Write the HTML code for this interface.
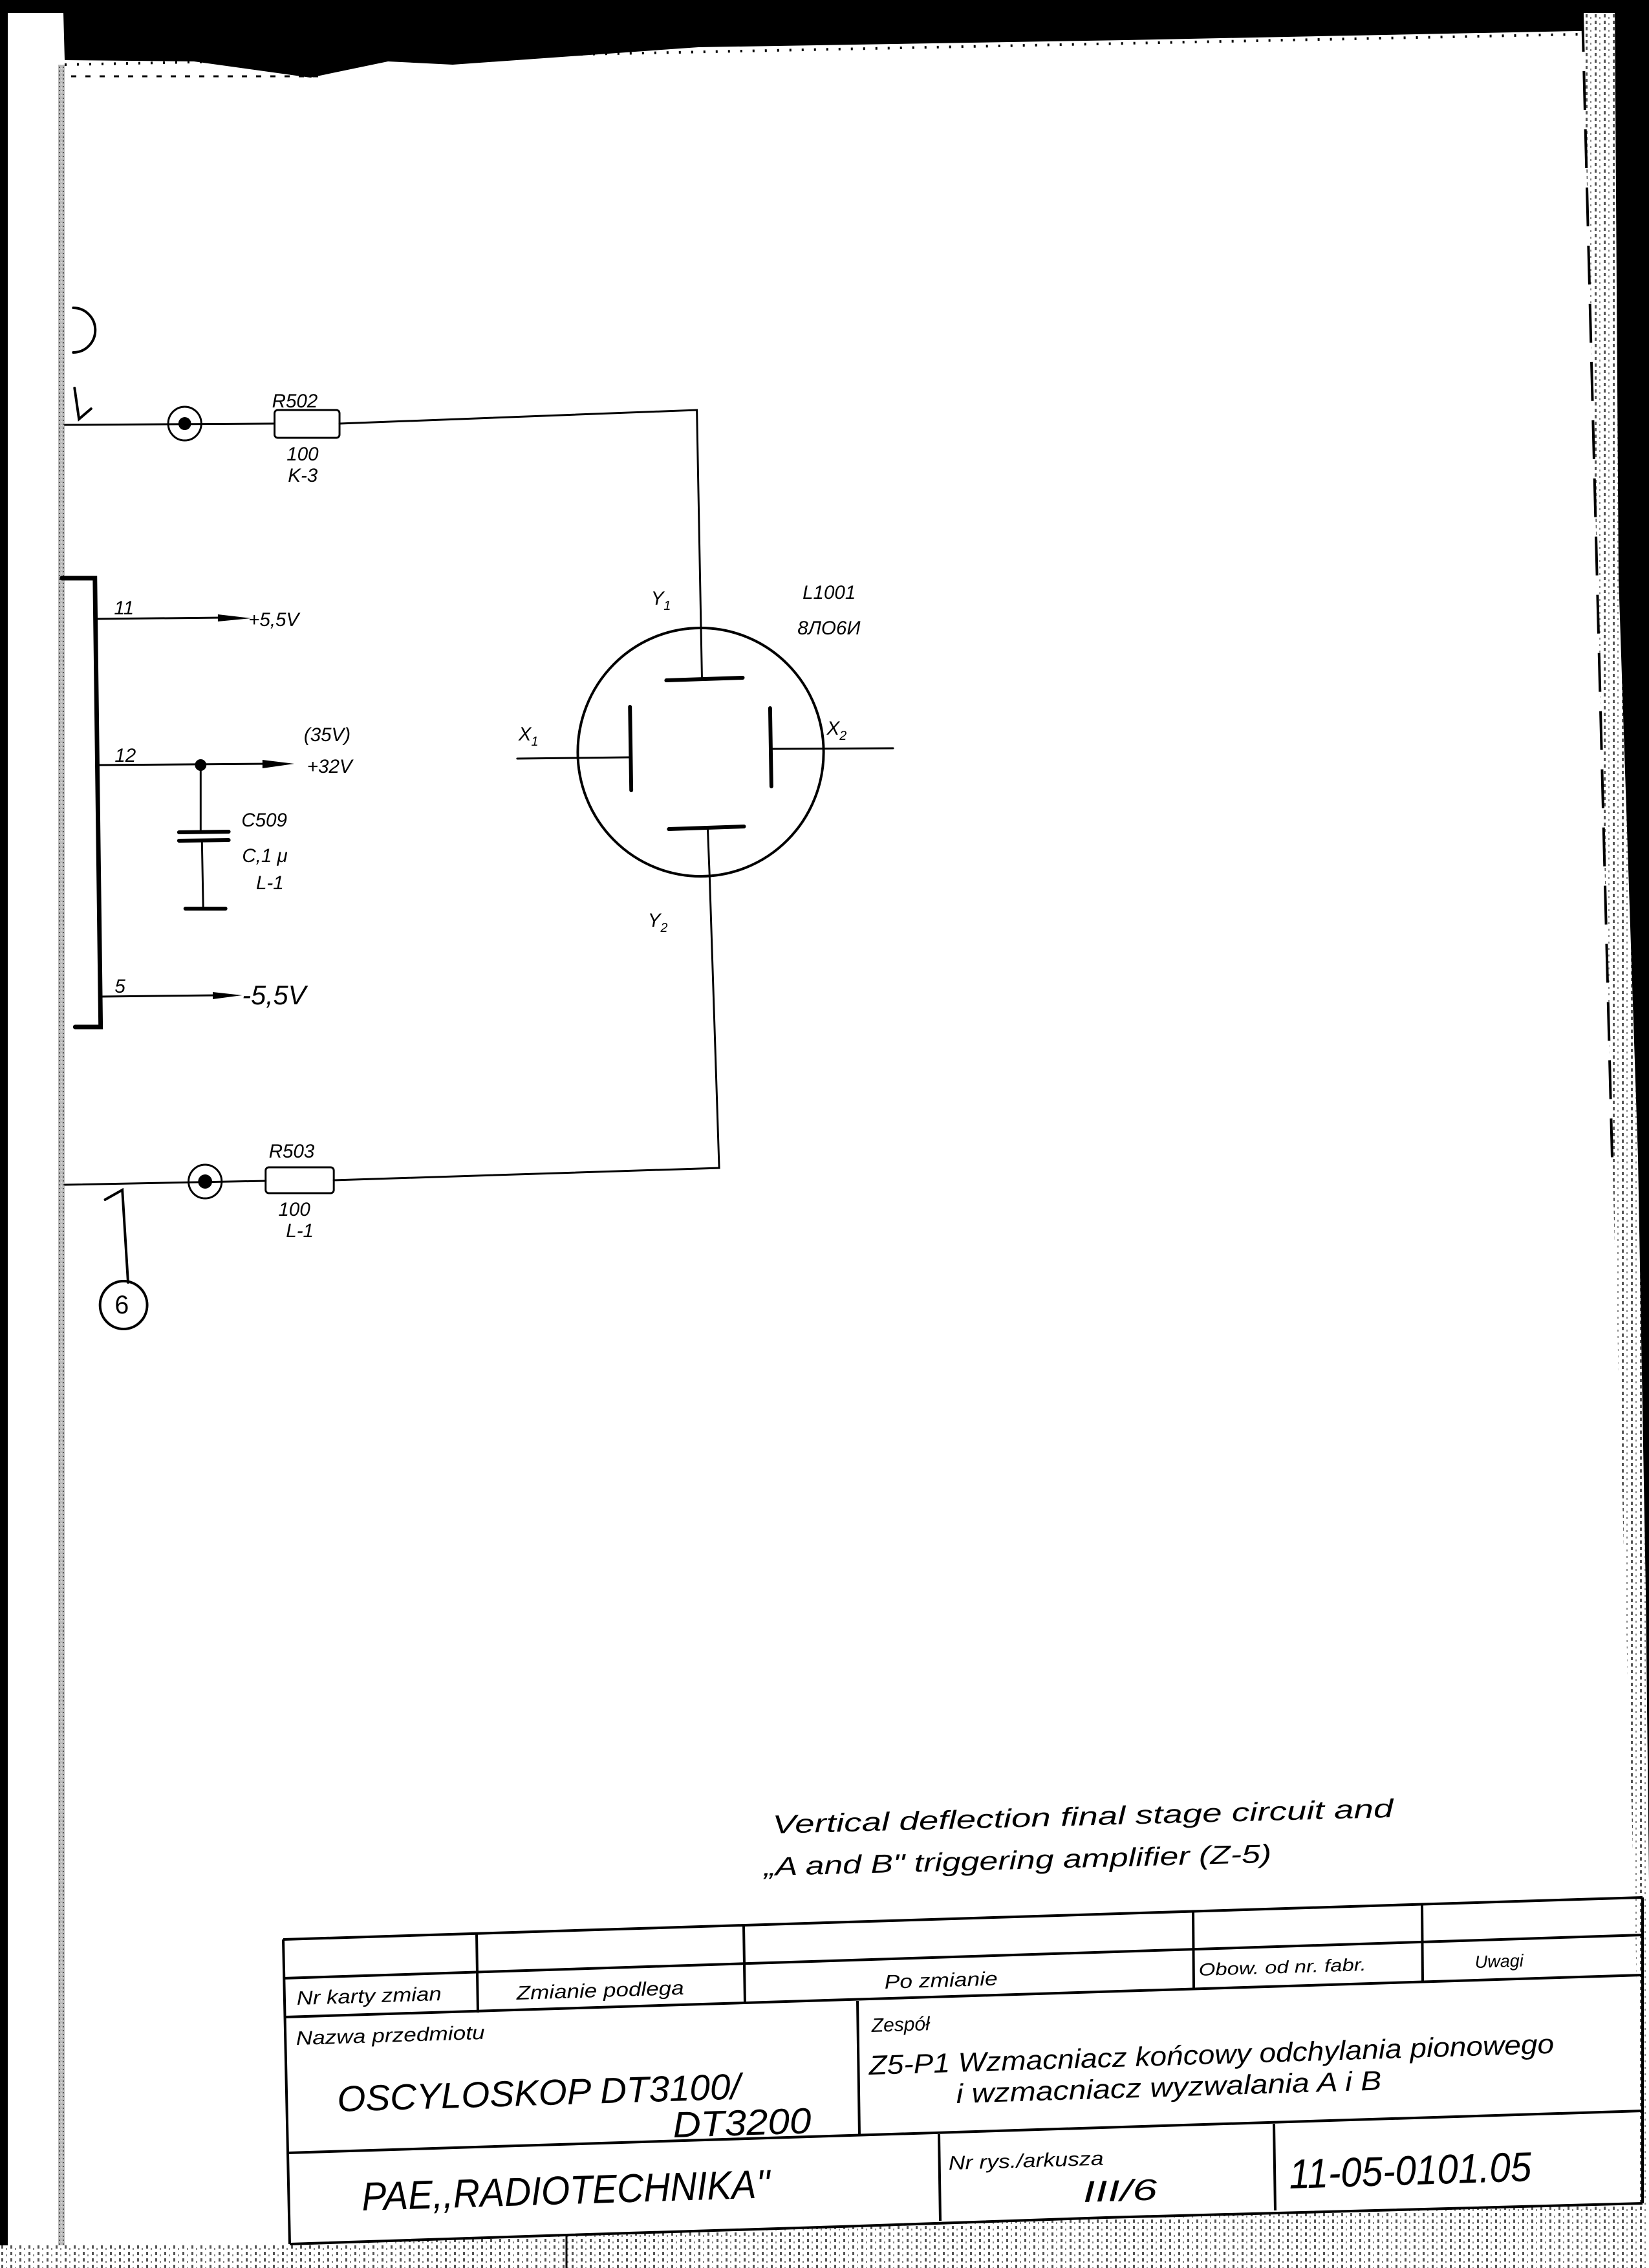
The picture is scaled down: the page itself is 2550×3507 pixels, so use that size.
<!DOCTYPE html>
<html><head><meta charset="utf-8"><style>
html,body{margin:0;padding:0;background:#fff}
svg{display:block}
text{font-family:"Liberation Sans",sans-serif;font-style:italic;fill:#000}
</style></head><body>
<svg width="2550" height="3507" viewBox="0 0 2550 3507" xmlns="http://www.w3.org/2000/svg">
<defs>
<pattern id="dots" width="14" height="10" patternUnits="userSpaceOnUse">
<rect width="14" height="10" fill="#fff"/><rect x="2" y="2" width="3" height="5" fill="#555"/><rect x="9" y="6" width="2" height="3" fill="#888"/>
</pattern>
<pattern id="grain" width="6" height="6" patternUnits="userSpaceOnUse">
<rect width="6" height="6" fill="#bbb"/><rect x="1" y="1" width="2" height="2" fill="#555"/><rect x="4" y="3" width="1" height="2" fill="#fff"/>
</pattern>
</defs>
<rect width="2550" height="3507" fill="#fff"/>
<!-- left edge -->
<rect x="0" y="0" width="12" height="3507" fill="#000"/>
<rect x="90" y="100" width="10" height="3380" fill="url(#grain)"/>
<!-- top band -->
<polygon points="0,0 2550,0 2550,20 2497,20 2490,47 1740,62 1080,73 700,100 600,95 480,120 300,95 100,93 98,20 0,20" fill="#000"/>
<line x1="100" y1="100" x2="2490" y2="52" stroke="#000" stroke-width="4" stroke-dasharray="3 16"/>
<line x1="110" y1="118" x2="500" y2="118" stroke="#000" stroke-width="3" stroke-dasharray="8 14"/>
<!-- right edge -->
<polygon points="2447,20 2497,20 2503,895 2533,1790 2545,2460 2550,2908 2550,3507 2533,3507 2533,3130 2493,1790" fill="url(#dots)"/>
<polygon points="2497,0 2550,0 2550,2908 2545,2460 2533,1790 2503,895" fill="#000"/>
<line x1="2447" y1="20" x2="2493" y2="1790" stroke="#000" stroke-width="4" stroke-dasharray="60 30"/>
<!-- bottom -->
<polygon points="0,3472 448,3472 876,3456 1300,3443 1710,3429 2540,3407 2550,3407 2550,3507 0,3507" fill="url(#dots)"/>
<line x1="876" y1="3456" x2="876" y2="3507" stroke="#000" stroke-width="3"/>

<g transform="matrix(0.985 0 0 1 2 0)">
<g stroke="#000" fill="none" stroke-linecap="round">
<path d="M113,476 A34,34 0 0 1 113,545" stroke-width="4"/>
<polyline points="115,600 122,648 141,632" stroke-width="4"/>
<line x1="100" y1="657" x2="429" y2="655" stroke-width="3"/>
<circle cx="288" cy="655" r="26" stroke-width="3"/>
<rect x="429" y="634" width="102" height="43" rx="5" stroke-width="3"/>
<polyline points="531,655 1092,634 1100,1050" stroke-width="3"/>
<polyline points="95,894 147,894 156,1588 116,1588" stroke-width="7"/>
<line x1="151" y1="957" x2="350" y2="955" stroke-width="3"/>
<line x1="154" y1="1183" x2="420" y2="1181" stroke-width="3"/>
<line x1="158" y1="1541" x2="340" y2="1539" stroke-width="3"/>
<line x1="313" y1="1183" x2="313" y2="1287" stroke-width="3"/>
<line x1="279" y1="1287" x2="357" y2="1286" stroke-width="6"/>
<line x1="279" y1="1300" x2="357" y2="1299" stroke-width="6"/>
<line x1="315" y1="1300" x2="317" y2="1405" stroke-width="3"/>
<line x1="289" y1="1405" x2="352" y2="1405" stroke-width="6"/>
<ellipse cx="1098" cy="1163" rx="193" ry="192" stroke-width="4"/>
<line x1="1044" y1="1052" x2="1164" y2="1048" stroke-width="6"/>
<line x1="1048" y1="1282" x2="1166" y2="1278" stroke-width="6"/>
<line x1="987" y1="1093" x2="989" y2="1222" stroke-width="6"/>
<line x1="1207" y1="1095" x2="1209" y2="1216" stroke-width="6"/>
<line x1="810" y1="1173" x2="987" y2="1171" stroke-width="3"/>
<line x1="1209" y1="1158" x2="1400" y2="1157" stroke-width="3"/>
<polyline points="1109,1280 1112,1355 1127,1806 522,1825" stroke-width="3"/>
<rect x="415" y="1805" width="107" height="40" rx="5" stroke-width="3"/>
<line x1="100" y1="1832" x2="415" y2="1826" stroke-width="3"/>
<circle cx="320" cy="1827" r="26" stroke-width="3"/>
<polyline points="163,1855 190,1840 199,1983" stroke-width="4"/>
<circle cx="192" cy="2018" r="37" stroke-width="4"/>
</g>
<g fill="#000">
<circle cx="288" cy="655" r="10"/>
<circle cx="320" cy="1827" r="11"/>
<circle cx="313" cy="1183" r="9"/>
<polygon points="340,950 392,956 340,961"/>
<polygon points="410,1175 460,1181 410,1188"/>
<polygon points="332,1534 378,1539 332,1545"/>
</g>
<g font-size="30">
<text x="425" y="630">R502</text>
<text x="448" y="712">100</text>
<text x="450" y="745">K-3</text>
<text x="177" y="950">11</text>
<text x="388" y="968">+5,5V</text>
<text x="178" y="1178">12</text>
<text x="475" y="1146">(35V)</text>
<text x="480" y="1195">+32V</text>
<text x="377" y="1278">C509</text>
<text x="378" y="1333">C,1 μ</text>
<text x="400" y="1375">L-1</text>
<text x="178" y="1535">5</text>
<text x="378" y="1553" font-size="42">-5,5V</text>
<text x="1258" y="926">L1001</text>
<text x="1250" y="981">8ЛО6И</text>
<text x="1020" y="935">Y<tspan font-size="20" dy="8">1</tspan></text>
<text x="1015" y="1433">Y<tspan font-size="20" dy="8">2</tspan></text>
<text x="812" y="1145">X<tspan font-size="20" dy="8">1</tspan></text>
<text x="1296" y="1136">X<tspan font-size="20" dy="8">2</tspan></text>
<text x="420" y="1790">R503</text>
<text x="435" y="1880">100</text>
<text x="447" y="1913">L-1</text>
<text x="178" y="2031" font-size="40" style="font-style:normal">6</text>
</g>
</g>
<g transform="rotate(-1.5 1195 2835)" font-size="40">
<text x="1195" y="2835" textLength="960" lengthAdjust="spacingAndGlyphs">Vertical  deflection  final  stage  circuit  and</text>
<text x="1180" y="2900" textLength="785" lengthAdjust="spacingAndGlyphs">„A and B" triggering amplifier (Z-5)</text>
</g>
<g stroke="#000" fill="none" stroke-width="4">
<line x1="438" y1="2999" x2="2540" y2="2934"/>
<line x1="438" y1="3059" x2="2540" y2="2992"/>
<line x1="440" y1="3119" x2="2540" y2="3054"/>
<line x1="445" y1="3329" x2="2540" y2="3264"/>
<polyline points="448,3470 876,3456 1300,3443 1710,3429 2540,3407"/>
<line x1="438" y1="2999" x2="448" y2="3470"/>
<line x1="737" y1="2990" x2="739" y2="3112"/>
<line x1="1150" y1="2978" x2="1152" y2="3099"/>
<line x1="1845" y1="2956" x2="1846" y2="3075"/>
<line x1="2199" y1="2945" x2="2200" y2="3066"/>
<line x1="1326" y1="3094" x2="1329" y2="3303"/>
<line x1="1452" y1="3300" x2="1454" y2="3434"/>
<line x1="1970" y1="3284" x2="1972" y2="3418"/>
<line x1="2540" y1="2934" x2="2540" y2="3407"/>
</g>
<g font-size="30">
<text x="459" y="3100" transform="rotate(-1.8 459 3100)" textLength="224" lengthAdjust="spacingAndGlyphs">Nr karty zmian</text>
<text x="799" y="3092" transform="rotate(-1.8 799 3092)" textLength="259" lengthAdjust="spacingAndGlyphs">Zmianie podlega</text>
<text x="1368" y="3075" transform="rotate(-1.8 1368 3075)" textLength="175" lengthAdjust="spacingAndGlyphs">Po zmianie</text>
<text x="1854" y="3055" transform="rotate(-1.8 1854 3055)" font-size="27" textLength="259" lengthAdjust="spacingAndGlyphs">Obow. od nr. fabr.</text>
<text x="2281" y="3043" transform="rotate(-1.8 2281 3043)" font-size="27">Uwagi</text>
<text x="458" y="3162" transform="rotate(-1.8 458 3162)" textLength="292" lengthAdjust="spacingAndGlyphs">Nazwa przedmiotu</text>
<text x="1348" y="3142" transform="rotate(-1.8 1348 3142)">Zespół</text>
<text x="1467" y="3355" transform="rotate(-1.8 1467 3355)" textLength="240" lengthAdjust="spacingAndGlyphs">Nr rys./arkusza</text>
</g>
<g font-size="56">
<text x="522" y="3265" transform="rotate(-1.8 522 3265)" textLength="624" lengthAdjust="spacingAndGlyphs">OSCYLOSKOP  DT3100/</text>
<text x="1041" y="3305" transform="rotate(-1.8 1041 3305)" textLength="214" lengthAdjust="spacingAndGlyphs">DT3200</text>
<text x="560" y="3418" transform="rotate(-1.8 560 3418)" font-size="62" textLength="632" lengthAdjust="spacingAndGlyphs">PAE,,RADIOTECHNIKA''</text>
<text x="1994" y="3384" transform="rotate(-1.8 1994 3384)" font-size="64" textLength="375" lengthAdjust="spacingAndGlyphs">11-05-0101.05</text>
</g>
<g font-size="42">
<text x="1344" y="3208" transform="rotate(-1.8 1344 3208)" textLength="1060" lengthAdjust="spacingAndGlyphs">Z5-P1 Wzmacniacz  końcowy odchylania pionowego</text>
<text x="1479" y="3252" transform="rotate(-1.8 1479 3252)" textLength="658" lengthAdjust="spacingAndGlyphs">i wzmacniacz wyzwalania A i B</text>
<text x="1675" y="3405" transform="rotate(-1.8 1675 3405)" font-size="46" textLength="115" lengthAdjust="spacingAndGlyphs">III/6</text>
</g>
</svg>
</body></html>
